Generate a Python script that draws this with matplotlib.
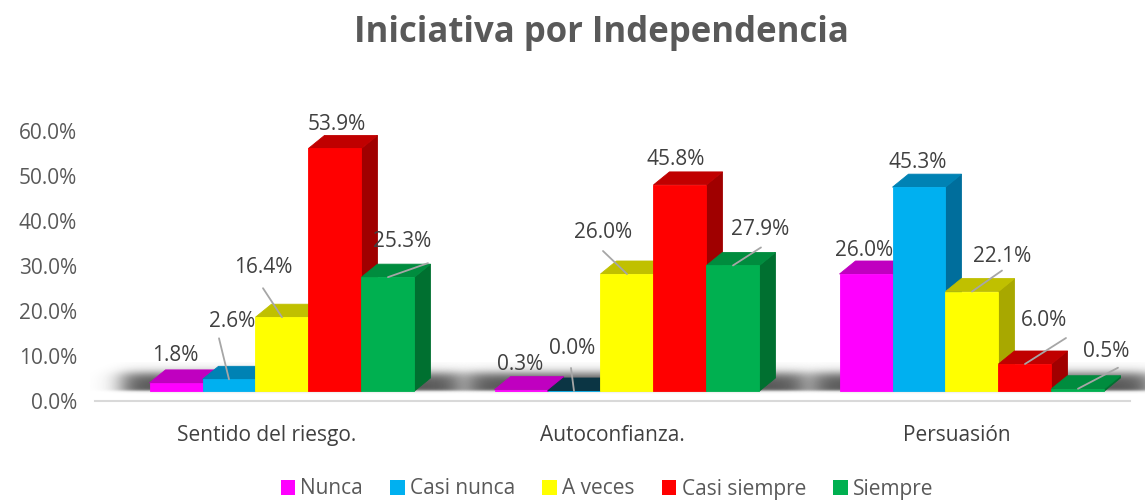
import matplotlib
matplotlib.use("Agg")
import numpy as np
import matplotlib.pyplot as plt
import matplotlib.transforms as mtransforms
from matplotlib.patches import Polygon, Patch

# ---------------- data ----------------
categories = ["Sentido del riesgo.", "Autoconfianza.", "Persuasión"]
series_names = ["Nunca", "Casi nunca", "A veces", "Casi siempre", "Siempre"]
nunca = [1.8, 0.3, 26.0]
casi_nunca = [2.6, 0.0, 45.3]
a_veces = [16.4, 26.0, 22.1]
casi_siempre = [53.9, 45.8, 6.0]
siempre = [25.3, 27.9, 0.5]
y_ticks = [0, 10, 20, 30, 40, 50, 60]
title = "Iniciativa por Independencia"

series_values = [nunca, casi_nunca, a_veces, casi_siempre, siempre]

# ---------------- style ----------------
front_colors = ["#FF00FF", "#00B0F0", "#FFFF00", "#FF0000", "#00B050"]
top_colors = ["#C000C0", "#0082B4", "#C0C000", "#C00000", "#008C3E"]
side_colors = ["#A000A0", "#006E9C", "#A8A800", "#A00000", "#007030"]
zero_top_color = "#0B3544"

# label offsets (pixels) relative to bar front-top centre, per [group][series]
label_offsets = [
    [(-1, 27), (3, 58), (-19, 50), (2, 24), (14, 36)],
    [(-1, 25), (-2, 43), (-24, 41), (-4, 25), (27, 36)],
    [(-2, 23), (-1, 25), (30, 35), (19, 43), (28, 37)],
]
# leader line start offsets (pixels) or None
leader_starts = [
    [None, (-10, 41), (-19, 29), None, (40, 14)],
    [None, (-3, 23), (-24, 23), None, (28, 18)],
    [None, None, (30, 21), (41, 26), (40, 21)],
]

W, H = 1145, 501
DPI = 100
fig = plt.figure(figsize=(W / DPI, H / DPI), dpi=DPI)
fig.patch.set_facecolor("white")

ax_left, ax_right = 95, 1130
ax_base, ax_top = 401, 131
ax = fig.add_axes([ax_left / W, (H - ax_base) / H,
                   (ax_right - ax_left) / W, (ax_base - ax_top) / H])
XLIM = (-0.542, 2.458)
YLIM = (0, 60)

font = "Open Sans"
text_col = "#404040"
tick_col = "#595959"

PX_X = 345.0   # pixels per x data unit
PX_Y = 4.5     # pixels per y data unit (%)
bar_w = 0.1536
dx = 16 / PX_X           # depth offset in x data units
dy = 13 / PX_Y           # depth offset in y data units (%)
lift = mtransforms.ScaledTranslation(0, 10 / DPI, fig.dpi_scale_trans)
tr = ax.transData + lift

n_series = len(series_values)


def sig(t):
    return 1.0 / (1.0 + np.exp(-t))


# soft floor shadows (blurred band behind each group)
for gi in range(len(categories)):
    gx0 = gi - n_series / 2 * bar_w
    gx1 = gi + n_series / 2 * bar_w + dx
    ex0 = gx0 - 60 / PX_X
    ex1 = gx1 + 60 / PX_X
    ey0 = -3 / PX_Y
    ey1 = (13 + 16) / PX_Y
    nx = int((ex1 - ex0) * PX_X)
    ny = int((ey1 - ey0) * PX_Y)
    xs = np.linspace(ex0, ex1, nx) * PX_X
    ys = np.linspace(ey0, ey1, ny) * PX_Y
    fx = sig((xs - (gx0 * PX_X - 28)) / 7) * sig(((gx1 * PX_X + 30) - xs) / 7)
    fy = sig((ys - 0.0) / 0.8) * sig(((13 + 5) - ys) / 3)
    alpha = 0.78 * np.outer(fy, fx)
    img = np.zeros((ny, nx, 4))
    img[..., :3] = 0.16
    img[..., 3] = alpha
    ax.imshow(img, extent=[ex0, ex1, ey0, ey1], origin="lower", aspect="auto",
              interpolation="bilinear", transform=tr, zorder=1, clip_on=False)

for gi in range(len(categories)):
    for si in range(n_series):
        v = series_values[si][gi]
        x0 = gi + (si - 2) * bar_w - bar_w / 2
        x1 = x0 + bar_w
        z = 3 + si * 0.1 + gi
        side = Polygon([(x1, 0), (x1 + dx, dy), (x1 + dx, v + dy), (x1, v)], closed=True,
                       facecolor=side_colors[si], edgecolor=side_colors[si], lw=0.6,
                       transform=tr, zorder=z, clip_on=False)
        tcol = zero_top_color if v == 0 else top_colors[si]
        top = Polygon([(x0, v), (x1, v), (x1 + dx, v + dy), (x0 + dx, v + dy)], closed=True,
                      facecolor=tcol, edgecolor=tcol, lw=0.6,
                      transform=tr, zorder=z, clip_on=False)
        front = Polygon([(x0, 0), (x1, 0), (x1, v), (x0, v)], closed=True,
                        facecolor=front_colors[si], edgecolor=front_colors[si], lw=0.6,
                        transform=tr, zorder=z + 0.01, clip_on=False)
        ax.add_patch(side)
        ax.add_patch(top)
        ax.add_patch(front)

        xc = (x0 + x1) / 2
        ox, oy = label_offsets[gi][si]
        ax.annotate(f"{v:.1f}%", xy=(xc, v), xycoords=tr, xytext=(ox, oy),
                    textcoords="offset pixels", ha="center", va="center",
                    fontsize=15, color=text_col, family=font, zorder=20,
                    annotation_clip=False)
        ls = leader_starts[gi][si]
        if ls is not None:
            ax.annotate("", xy=(xc, v), xycoords=tr, xytext=ls,
                        textcoords="offset pixels",
                        arrowprops=dict(arrowstyle="-", color="#A6A6A6", lw=1.3,
                                        shrinkA=0, shrinkB=0),
                        zorder=21, annotation_clip=False)

ax.set_xlim(*XLIM)
ax.set_ylim(*YLIM)

# axes styling
for s in ["top", "right", "left"]:
    ax.spines[s].set_visible(False)
ax.spines["bottom"].set_color("#D9D9D9")
ax.spines["bottom"].set_linewidth(1.5)
ax.spines["bottom"].set_zorder(0)
ax.set_yticks(y_ticks)
ax.set_yticklabels([f"{t:.1f}%" for t in y_ticks], fontsize=15, color=tick_col, family=font)
ax.set_xticks(range(len(categories)))
ax.set_xticklabels(categories, fontsize=15, color=text_col, family=font)
ax.tick_params(axis="y", length=0, pad=13)
ax.tick_params(axis="x", length=0, pad=17)
shift = mtransforms.ScaledTranslation(-15 / DPI, 0, fig.dpi_scale_trans)
for lab in ax.get_xticklabels():
    lab.set_transform(lab.get_transform() + shift)
ax.patch.set_alpha(0)

fig.text(601 / W, 1 - 33 / H, title, ha="center", va="center", fontsize=25,
         fontweight="bold", color="#595959", family=font)

handles = [Patch(facecolor=c, edgecolor="none", label=n) for c, n in zip(front_colors, series_names)]
leg = fig.legend(handles=handles, loc="center", bbox_to_anchor=(607 / W, 1 - 489 / H),
                 ncol=5, frameon=False, handlelength=0.7, handleheight=0.7,
                 handletextpad=0.25, columnspacing=1.3,
                 prop={"family": font, "size": 15})
for t in leg.get_texts():
    t.set_color(tick_col)

fig.savefig("out.png", dpi=DPI, facecolor="white")
